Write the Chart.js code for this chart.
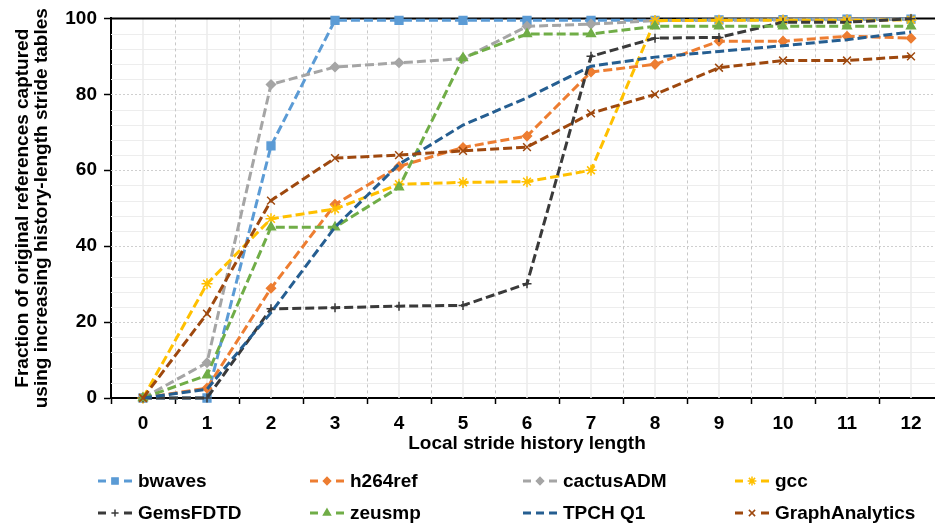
<!DOCTYPE html>
<html>
<head>
<meta charset="utf-8">
<script src="https://cdn.jsdelivr.net/npm/chart.js@4/dist/chart.umd.min.js"></script>
<style>
  html, body { margin: 0; padding: 0; background: #fff; overflow: hidden; }
  #wrap { position: relative; width: 950px; height: 525px; }
</style>
</head>
<body>
<div id="wrap"><canvas id="chart"></canvas></div>
<script>
// history lengths on the x axis
const historyLengths = ['0', '1', '2', '3', '4', '5', '6', '7', '8', '9', '10', '11', '12'];
const yTicks = [0, 20, 40, 60, 80, 100];

// fraction captured (%) per benchmark
const bwaves         = [0, 0, 66.4, 99.5, 99.5, 99.5, 99.5, 99.5, 99.5, 99.6, 99.7, 99.8, 99.8];
const h264ref        = [0, 2.6, 28.9, 51, 61, 66, 69, 85.9, 87.9, 94, 94, 95.3, 94.8];
const cactusADM      = [0, 9.3, 82.6, 87.2, 88.3, 89.4, 97.9, 98.5, 99.4, 99.5, 99.6, 99.7, 99.8];
const gcc            = [0, 30.1, 47.2, 49.8, 56.3, 56.8, 57, 60, 99.4, 99.5, 99.5, 99.5, 99.6];
const GemsFDTD       = [0, 0, 23.5, 23.8, 24.2, 24.4, 30.1, 90, 94.8, 95, 99, 99, 99.9];
const zeusmp         = [0, 6, 45, 45, 55.5, 89.6, 95.9, 95.9, 97.9, 97.9, 97.9, 97.9, 97.9];
const TPCH_Q1        = [0, 2.3, 22.5, 45, 61.6, 71.9, 79.1, 87.4, 89.8, 91.3, 92.8, 94.4, 96.4];
const GraphAnalytics = [0, 22.2, 52, 63.2, 64, 65.1, 66.1, 75, 80, 87, 88.9, 88.9, 90];

const seriesNames  = ['bwaves', 'h264ref', 'cactusADM', 'gcc', 'GemsFDTD', 'zeusmp', 'TPCH Q1', 'GraphAnalytics'];
const seriesValues = [bwaves, h264ref, cactusADM, gcc, GemsFDTD, zeusmp, TPCH_Q1, GraphAnalytics];
const seriesColors = ['#5B9BD5', '#ED7D31', '#A5A5A5', '#FFC000', '#3A3A3A', '#70AD47', '#255E91', '#9E480E'];
const seriesPoints = ['rect', 'rectRot', 'rectRot', 'star', 'cross', 'triangle', false, 'crossRot'];
const seriesRadius = [5.5, 4.5, 4.5, 5.5, 4.5, 5, 0, 5.5];

const FONT = "'Liberation Sans', Arial, sans-serif";

// grid lines like Excel: minor solid + major dotted, drawn from the scales
const gridPlugin = {
    id: 'excelGrid',
    beforeDatasetsDraw(chart) {
        const { ctx, chartArea: a, scales: { x, y } } = chart;
        ctx.save();
        // horizontal
        for (let v = 4; v < 100; v += 4) {
            const py = Math.round(y.getPixelForValue(v)) + 0.5;
            ctx.beginPath();
            if (v % 20 === 0) {
                ctx.strokeStyle = '#CFCFCF';
                ctx.setLineDash([2, 2]);
            } else {
                ctx.strokeStyle = '#EDEDED';
                ctx.setLineDash([]);
            }
            ctx.lineWidth = 1;
            ctx.moveTo(a.left, py);
            ctx.lineTo(a.right, py);
            ctx.stroke();
        }
        // vertical: category centres (light) and band edges (dashed)
        const half = (x.getPixelForValue(1) - x.getPixelForValue(0)) / 2;
        for (let i = 0; i < historyLengths.length; i++) {
            const cx = x.getPixelForValue(i);
            ctx.setLineDash([]);
            ctx.strokeStyle = '#EBEBEB';
            ctx.lineWidth = 1.5;
            ctx.beginPath();
            ctx.moveTo(cx, a.top);
            ctx.lineTo(cx, a.bottom);
            ctx.stroke();
            if (i > 0) {
                const bx = Math.round(cx - half) + 0.5;
                ctx.setLineDash([3, 3]);
                ctx.strokeStyle = '#C8C8C8';
                ctx.lineWidth = 1;
                ctx.beginPath();
                ctx.moveTo(bx, a.top);
                ctx.lineTo(bx, a.bottom);
                ctx.stroke();
            }
        }
        // top border
        ctx.setLineDash([]);
        ctx.strokeStyle = '#000';
        ctx.lineWidth = 2;
        ctx.beginPath();
        ctx.moveTo(a.left, a.top);
        ctx.lineTo(a.right, a.top);
        ctx.stroke();
        ctx.restore();
    }
};

// legend in a fixed 4 column grid under the axis
const legendPlugin = {
    id: 'gridLegend',
    afterDraw(chart) {
        const ctx = chart.ctx;
        const colX = [98, 310, 523, 735];
        const rowY = [481, 513];
        ctx.save();
        chart.data.datasets.forEach((ds, i) => {
            const x0 = colX[i % 4];
            const y0 = rowY[Math.floor(i / 4)];
            ctx.strokeStyle = ds.borderColor;
            ctx.lineWidth = 3;
            ctx.setLineDash([]);
            ctx.beginPath();
            if (ds.pointStyle) {
                ctx.moveTo(x0, y0); ctx.lineTo(x0 + 8, y0);
                ctx.moveTo(x0 + 26, y0); ctx.lineTo(x0 + 34, y0);
            } else {
                ctx.moveTo(x0, y0); ctx.lineTo(x0 + 8, y0);
                ctx.moveTo(x0 + 13, y0); ctx.lineTo(x0 + 21, y0);
                ctx.moveTo(x0 + 26, y0); ctx.lineTo(x0 + 34, y0);
            }
            ctx.stroke();
            if (ds.pointStyle && Chart.helpers && Chart.helpers.drawPoint) {
                ctx.fillStyle = ds.backgroundColor;
                ctx.lineWidth = 1.5;
                Chart.helpers.drawPoint(ctx, {
                    pointStyle: ds.pointStyle,
                    radius: ds.pointRadius * 0.8,
                    rotation: 0,
                    borderWidth: 1.5
                }, x0 + 17, y0);
            }
            ctx.fillStyle = '#000';
            ctx.font = 'bold 19px ' + FONT;
            ctx.textBaseline = 'middle';
            ctx.textAlign = 'left';
            ctx.fillText(ds.label, x0 + 40, y0 + 1);
        });
        ctx.restore();
    }
};

const datasets = seriesNames.map((name, i) => ({
    label: name,
    data: seriesValues[i],
    borderColor: seriesColors[i],
    backgroundColor: seriesColors[i],
    borderWidth: 3,
    borderDash: [9, 4],
    pointStyle: seriesPoints[i],
    pointRadius: seriesRadius[i],
    pointBorderWidth: 1.5,
    pointBackgroundColor: seriesColors[i],
    pointBorderColor: seriesColors[i],
    tension: 0,
    clip: false,
    order: seriesNames.length - i
}));

new Chart(document.getElementById('chart'), {
    type: 'line',
    data: { labels: historyLengths, datasets: datasets },
    options: {
        responsive: true,
        maintainAspectRatio: false,
        animation: false,
        layout: { padding: { top: 17, right: 7, bottom: 70, left: 0 } },
        plugins: {
            legend: { display: false },
            tooltip: { enabled: false }
        },
        scales: {
            x: {
                type: 'category',
                offset: true,
                afterFit: s => { s.height = 57; },
                grid: {
                    offset: true,
                    drawOnChartArea: false,
                    drawTicks: true,
                    tickLength: 6,
                    tickColor: '#000',
                    tickWidth: 1.5
                },
                border: { color: '#000', width: 2 },
                ticks: {
                    color: '#000',
                    padding: 8,
                    maxRotation: 0,
                    autoSkip: false,
                    font: { family: FONT, size: 19, weight: 'bold' }
                },
                title: {
                    display: true,
                    text: 'Local stride history length',
                    color: '#000',
                    padding: { top: 0, bottom: 0 },
                    font: { family: FONT, size: 19, weight: 'bold' }
                }
            },
            y: {
                min: 0,
                max: 100,
                afterFit: s => { s.width = 111; },
                afterBuildTicks: s => { s.ticks = yTicks.map(v => ({ value: v })); },
                grid: {
                    drawOnChartArea: false,
                    drawTicks: true,
                    tickLength: 7,
                    tickColor: '#000',
                    tickWidth: 1.5
                },
                border: { color: '#000', width: 2 },
                ticks: {
                    color: '#000',
                    padding: 7,
                    font: { family: FONT, size: 19, weight: 'bold' }
                },
                title: {
                    display: true,
                    text: ['Fraction of original references captured', 'using increasing history-length stride tables'],
                    color: '#000',
                    padding: { top: 13, bottom: 0 },
                    font: { family: FONT, size: 19, weight: 'bold', lineHeight: 1.0 }
                }
            }
        }
    },
    plugins: [gridPlugin, legendPlugin]
});
</script>
</body>
</html>
